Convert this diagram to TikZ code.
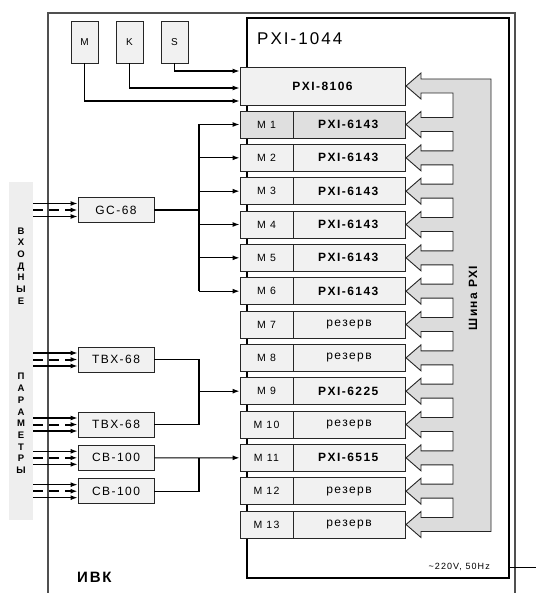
\documentclass[tikz,border=0pt]{standalone}
\usepackage{fontspec}
\setmainfont{Liberation Sans}[LetterSpace=12]
\usetikzlibrary{arrows.meta,patterns}
\definecolor{boxfill}{HTML}{F1F1F1}
\definecolor{mfill}{HTML}{DFDFDF}
\definecolor{busfill}{HTML}{DCDCDC}
\definecolor{framecol}{HTML}{505050}
\definecolor{labfill}{HTML}{EEEEEE}
\begin{document}
\begin{tikzpicture}[x=1pt,y=-1pt,
  box/.style={draw=black!85, line width=0.9pt, fill=boxfill, inner sep=0pt},
  mcell/.style={box, minimum width=53pt, minimum height=27pt, font=\fontsize{10.5}{12}\selectfont},
  ncell/.style={box, minimum width=112pt, minimum height=27pt, font=\fontsize{12}{14}\selectfont},
  small/.style={box, minimum width=27pt, minimum height=42pt, font=\fontsize{10}{12}\selectfont},
  inbox/.style={box, minimum width=76pt, minimum height=25pt, font=\fontsize{12}{14}\selectfont},
  conn/.style={line width=1.1pt},
  arr/.style={conn, -{Latex[length=7pt,width=5pt]}},
  darr/.style={arr, line width=2pt, dash pattern=on 10pt off 6pt},
  vlab/.style={align=center, inner sep=0pt, font=\bfseries\fontsize{9.5}{11.7}\selectfont}
]
\useasboundingbox (0,0) rectangle (536,593);

% outer frame
\draw[framecol, line width=1.4pt] (48,593) -- (48,13) -- (515,13) -- (515,593);
% label column
\node[fill=labfill, minimum width=24pt, minimum height=338pt, inner sep=0pt] (lab) at (21,351) {};
\node[vlab] (vx) at (21,266) {В\\Х\\О\\Д\\Н\\Ы\\Е};
\node[vlab] (pa) at (21,423.5) {П\\А\\Р\\А\\М\\Е\\Т\\Р\\Ы};

% chassis
\node[draw=black, line width=1.8pt, minimum width=262pt, minimum height=560pt, inner sep=0pt] (pxi) at (378,298) {};
\node[anchor=west, inner sep=0pt, font=\fontsize{17}{20}\selectfont] (pxit) at (257,39) {PXI-1044};

% bus
\draw[black!85, line width=0.9pt, fill=busfill]
  (491,79) -- (421,79) -- (421,73) -- (406,86) -- (421,99) -- (421,93) -- (453,93)
  \foreach \i [evaluate=\i as \yy using 124.5+(\i-1)*33.333] in {1,...,12} {
    -- (453,\yy-7) -- (421,\yy-7) -- (421,\yy-13) -- (406,\yy) -- (421,\yy+13) -- (421,\yy+7) -- (453,\yy+7) }
  -- (453,517.5) -- (421,517.5) -- (421,511.5) -- (406,524.5) -- (421,537.5) -- (421,531.5) -- (491,531.5) -- cycle;
\node[rotate=90, inner sep=0pt, font=\bfseries\fontsize{12}{14}\selectfont] (busl) at (473,298) {Шина PXI};

% controller
\node[box, minimum width=165pt, minimum height=38pt, font=\bfseries\fontsize{12}{14}\selectfont] (p8106) at (322.5,86) {PXI-8106};

% modules
\foreach \i/\txt/\fc in {1/\textbf{PXI-6143}/mfill, 2/\textbf{PXI-6143}/boxfill, 3/\textbf{PXI-6143}/boxfill,
  4/\textbf{PXI-6143}/boxfill, 5/\textbf{PXI-6143}/boxfill, 6/\textbf{PXI-6143}/boxfill, 7/резерв/boxfill,
  8/резерв/boxfill, 9/\textbf{PXI-6225}/boxfill, 10/резерв/boxfill, 11/\textbf{PXI-6515}/boxfill,
  12/резерв/boxfill, 13/резерв/boxfill} {
  \pgfmathsetmacro\yy{124.5+(\i-1)*33.333}
  \node[mcell, fill=\fc] (m\i) at (266.5,\yy) {M \i};
  \node[ncell, fill=\fc] (n\i) at (349,\yy) {\txt};
}

% sensors
\node[small] (mb) at (84.5,42) {M};
\node[small] (kb) at (129.5,42) {K};
\node[small] (sb) at (174.5,42) {S};
\draw[arr] (sb.south) |- ([yshift=15pt]p8106.west);
\draw[arr] (kb.south) |- ([yshift=-2pt]p8106.west);
\draw[arr] (mb.south) |- ([yshift=-15pt]p8106.west);

% input boxes
\node[inbox] (gc) at (116,210) {GC-68};
\node[inbox] (tbx1) at (116,359.5) {TBX-68};
\node[inbox] (tbx2) at (116,424.5) {TBX-68};
\node[inbox] (cb1) at (116,457.83) {CB-100};
\node[inbox] (cb2) at (116,491.17) {CB-100};

\foreach \b in {gc,tbx1,tbx2,cb1,cb2} {
  \draw[arr] ([yshift=6.5pt]\b.west -| lab.east) -- ([yshift=6.5pt]\b.west);
  \draw[darr] (\b.west -| lab.east) -- (\b.west);
  \draw[arr] ([yshift=-6.5pt]\b.west -| lab.east) -- ([yshift=-6.5pt]\b.west);
}

\coordinate (jx) at (199,0);
\draw[conn] (gc.east) -- (gc.east -| jx);
\draw[conn] (jx |- m1.west) -- (jx |- m6.west);
\foreach \i in {1,...,6} \draw[arr] (jx |- m\i.west) -- (m\i.west);
\draw[conn] (tbx1.east) -- (tbx1.east -| jx) -- (tbx2.east -| jx) -- (tbx2.east);
\draw[arr] (jx |- m9.west) -- (m9.west);
\draw[arr] (cb1.east) -- (m11.west);
\draw[conn] (cb2.east) -- (cb2.east -| jx) -- (jx |- m11.west);

% power
\coordinate (pwr) at (536,567);
\draw[line width=1pt] (pxi.east |- pwr) -- (pwr);
\node[anchor=east, inner sep=0pt, font=\fontsize{9}{11}\selectfont] (pwrl) at (490,567) {\textasciitilde220V, 50Hz};

\node[anchor=west, inner sep=0pt, font=\bfseries\fontsize{15}{18}\selectfont] (ivk) at (77,577) {ИВК};
\end{tikzpicture}
\end{document}
